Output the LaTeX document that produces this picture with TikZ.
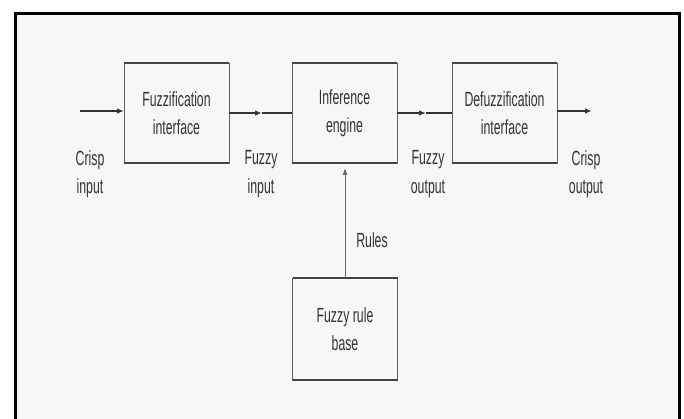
\documentclass[tikz,border=0pt]{standalone}
\usepackage{fontspec}
\setmainfont[FakeStretch=0.6]{Liberation Sans}
\usetikzlibrary{arrows.meta}
\definecolor{bg}{HTML}{F7F7F7}
\definecolor{ink}{HTML}{333333}
\definecolor{edge}{HTML}{444444}
\tikzset{
  blk/.style={draw=edge!85, line width=0.9pt, fill=bg, minimum width=105pt, minimum height=100pt,
    inner sep=0pt, outer sep=0pt, align=center, text=ink, font=\fontsize{20.5}{28.5}\selectfont},
  lbl/.style={align=center, text=ink, inner sep=0pt, font=\fontsize{20.5}{28.5}\selectfont},
  flow/.style={draw=ink, line width=1.6pt},
  tipped/.style={flow, -{Latex[length=7pt,width=5.5pt]}},
  thinflow/.style={draw=edge!80, line width=0.9pt, -{Latex[length=7pt,width=5pt]}},
  edgebar/.style={draw=edge, line width=2.2pt}
}
\begin{document}
\begin{tikzpicture}[x=1pt,y=-1pt]
\useasboundingbox (0,0) rectangle (684,419);
\fill[white] (0,0) rectangle (684,419);
\fill[bg] (15.5,14) rectangle (679,419);
\draw[black, line width=3pt] (15.5,419) -- (15.5,14) -- (679,14) -- (679,419);

\node[blk] (f) at (176.5,113) {Fuzzification\\interface};
\node[blk] (i) at (344.5,113) {Inference\\engine};
\node[blk] (d) at (504.5,113) {Defuzzification\\interface};
\node[blk, minimum height=102pt] (r) at (345,329) {Fuzzy rule\\base};

\foreach \n in {f,i,d,r}{
  \draw[edgebar] (\n.north west) -- (\n.north east);
  \draw[edgebar] (\n.south west) -- (\n.south east);
}

\coordinate (cin) at (80,111);
\coordinate (m1) at (262,113);
\coordinate (m2) at (426,113);
\coordinate (cout) at (592,111);
\coordinate (rt) at (345,168);

\draw[tipped] (cin) -- (cin -| f.west);
\draw[tipped] (f.east) -- (m1);
\draw[flow] (m1) -- (i.west);
\draw[tipped] (i.east) -- (m2);
\draw[flow] (m2) -- (d.west);
\draw[tipped] (d.east |- cout) -- (cout);
\draw[thinflow] (r.north) -- (rt);

\node[lbl] (l1) at (90,174) {Crisp\\input};
\node[lbl] (l2) at (261,174) {Fuzzy\\input};
\node[lbl] (l3) at (428,174) {Fuzzy\\output};
\node[lbl] (l4) at (586,174) {Crisp\\output};
\node[lbl] (l5) at (372,240) {Rules};
\end{tikzpicture}
\end{document}
